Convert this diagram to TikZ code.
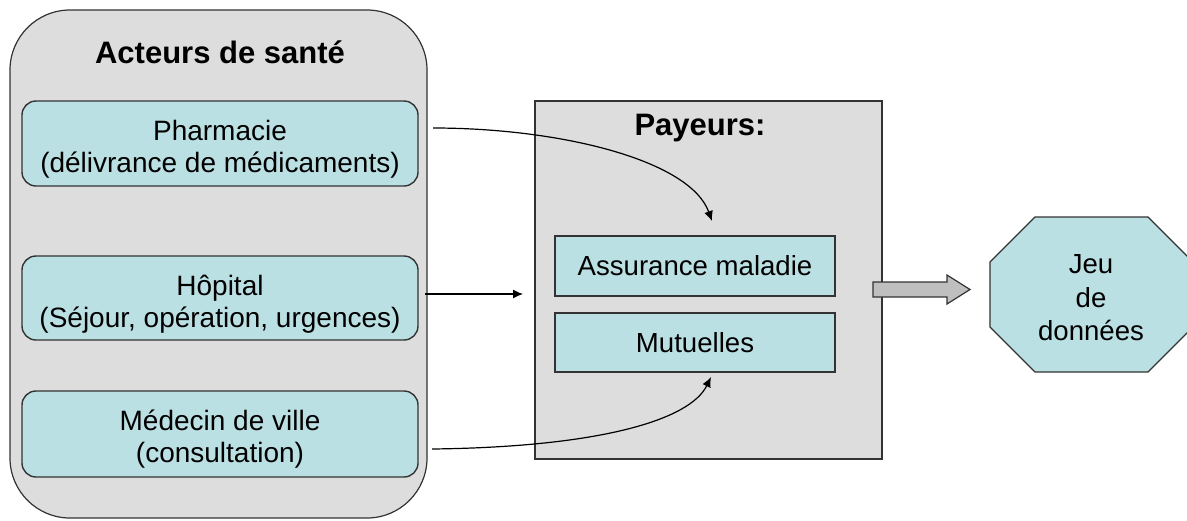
\documentclass[tikz,border=0pt]{standalone}
\usepackage{fontspec}
\setmainfont{Liberation Sans}
\usetikzlibrary{arrows.meta}
\definecolor{panelgray}{HTML}{DDDDDD}
\definecolor{boxcyan}{HTML}{BBE0E3}
\definecolor{edgegray}{HTML}{333333}
\definecolor{blockgray}{HTML}{BFBFBF}
\tikzset{
  panel/.style={draw=edgegray, line width=0.6pt, fill=panelgray},
  actor/.style={draw=edgegray, line width=0.7pt, fill=boxcyan, rounded corners=7pt,
    minimum width=198pt, inner sep=0pt},
  actortext/.style={align=center, font=\fontsize{14}{16}\selectfont, inner sep=0pt},
  payer/.style={draw=edgegray, line width=0.7pt, fill=boxcyan,
    minimum width=140pt, align=center, font=\fontsize{13.8}{16.5}\selectfont, inner sep=0pt},
  title/.style={font=\fontsize{15.5}{18}\selectfont\bfseries, inner sep=0pt},
  conn/.style={line width=0.6pt, -{Latex[length=5pt,width=4.5pt]}},
}
\begin{document}
\begin{tikzpicture}[x=0.5pt,y=-0.5pt]
\useasboundingbox (0,0) rectangle (1187,520);
% left panel
\node[panel, rounded corners=30pt, minimum width=208.5pt, minimum height=254pt] (acteurs) at (218.5,264) {};
\node[title] (tacteurs) at (220,52) {Acteurs de santé};
\node[actor, minimum height=42.5pt] (pharm) at (220,143.5) {};
\node[actortext] (pharmtext) at ([yshift=-3pt]pharm.center) {Pharmacie\\(délivrance de médicaments)};
\node[actor, minimum height=42pt] (hop) at (220,298) {};
\node[actortext] (hoptext) at ([yshift=-3pt]hop.center) {Hôpital\\(Séjour, opération, urgences)};
\node[actor, minimum height=43pt] (med) at (220,434) {};
\node[actortext] (medtext) at ([yshift=-2.5pt]med.center) {Médecin de ville\\(consultation)};
% payeurs panel
\node[panel, minimum width=173.5pt, minimum height=179pt] (payeurs) at (708.5,280) {};
\node[title] (tpayeurs) at (700,128) {Payeurs:};
\node[payer, minimum height=30pt] (assur) at (695,266) {Assurance maladie};
\node[payer, minimum height=29.5pt] (mut) at (695,342.5) {Mutuelles};
% connectors
\coordinate (p1) at (433,128);
\coordinate (p2) at (712,221);
\coordinate (h1) at (425,294);
\coordinate (h2) at (523,294);
\coordinate (m1) at (432,449);
\coordinate (m2) at (711,377);
\draw[conn] (p1) .. controls (560,128) and (690,160) .. (p2);
\draw[conn] (h1) -- (h2);
\draw[conn] (m1) .. controls (600,447) and (690,420) .. (m2);
% block arrow
\draw[draw=edgegray, line width=0.6pt, fill=blockgray]
  (873,282) -- (947,282) -- (947,275) -- (970,289.5) -- (947,304) -- (947,297) -- (873,297) -- cycle;
% octagon
\draw[draw=edgegray, line width=0.6pt, fill=boxcyan]
  (1035,217) -- (1148,217) -- (1193,262) -- (1193,327) -- (1148,372) -- (1035,372) -- (990,327) -- (990,262) -- cycle;
\node[font=\fontsize{13.8}{16.8}\selectfont, align=center, inner sep=0pt] (jeu) at (1091,298) {Jeu\\de\\données};
\end{tikzpicture}
\end{document}
